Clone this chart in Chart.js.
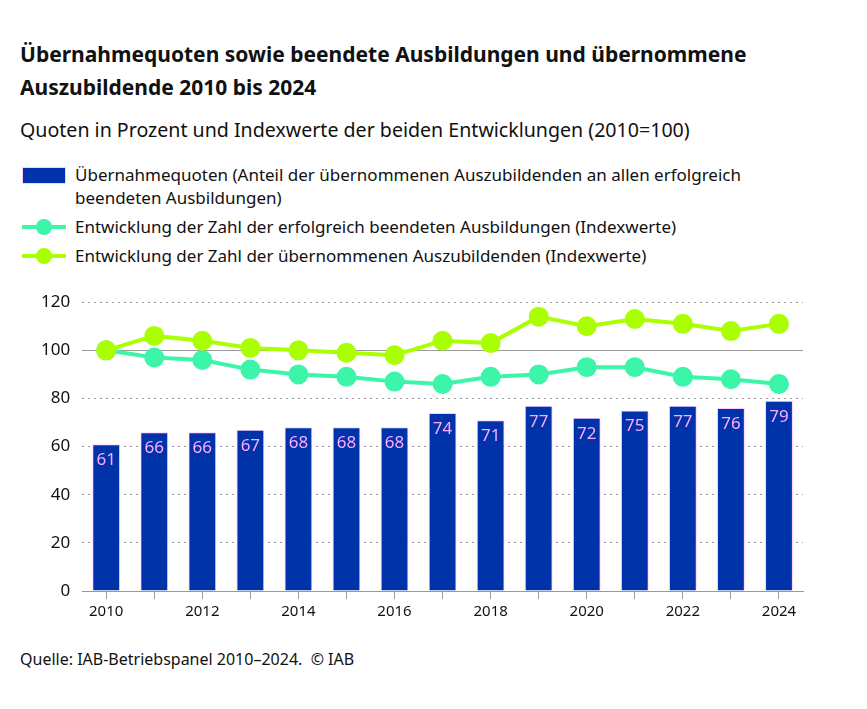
<!DOCTYPE html>
<html>
<head>
<meta charset="utf-8">
<script src="https://cdn.jsdelivr.net/npm/chart.js@4"></script>
<style>
  body { margin: 0; background: #fff; font-family: "Noto Sans", sans-serif; color: #111; }
  .wrap { position: relative; width: 867px; height: 709px; }
  .title { position: absolute; left: 20px; top: 38px; font-size: 21px; font-weight: bold; line-height: 33px; }
  .subtitle { position: absolute; left: 20px; top: 116px; font-size: 19.6px; }
  .legend { position: absolute; left: 22px; top: 163px; font-size: 17px; line-height: 23px; }
  .item { position: relative; padding-left: 53px; margin-bottom: 6px; width: 700px; }
  .box { position: absolute; left: 0; top: 4px; width: 42px; height: 15px; background: #0033aa; border: 1px solid #ffccff; }
  .line { position: absolute; left: 0; top: 10px; width: 44px; height: 4px; }
  .dot { position: absolute; left: 14px; top: 4px; width: 16px; height: 16px; border-radius: 50%; }
  .source { position: absolute; left: 20px; top: 648px; font-size: 16px; }
  .chart { position: absolute; left: 0; top: 280px; width: 815px; height: 345px; }
</style>
</head>
<body>
<div class="wrap">
  <div class="title">Übernahmequoten sowie beendete Ausbildungen und übernommene<br>Auszubildende 2010 bis 2024</div>
  <div class="subtitle">Quoten in Prozent und Indexwerte der beiden Entwicklungen (2010=100)</div>
  <div class="legend">
    <div class="item"><span class="box"></span>Übernahmequoten (Anteil der übernommenen Auszubildenden an allen erfolgreich beendeten Ausbildungen)</div>
    <div class="item"><span class="line" style="background:#3cf5a8"></span><span class="dot" style="background:#3cf5a8"></span>Entwicklung der Zahl der erfolgreich beendeten Ausbildungen (Indexwerte)</div>
    <div class="item"><span class="line" style="background:#aaff00"></span><span class="dot" style="background:#aaff00"></span>Entwicklung der Zahl der übernommenen Auszubildenden (Indexwerte)</div>
  </div>
  <div class="chart"><canvas id="chart"></canvas></div>
  <div class="source">Quelle: IAB-Betriebspanel 2010–2024.&nbsp; © IAB</div>
</div>
<script>
const years = ['2010', '2011', '2012', '2013', '2014', '2015', '2016', '2017', '2018', '2019', '2020', '2021', '2022', '2023', '2024']
const quoten = [61, 66, 66, 67, 68, 68, 68, 74, 71, 77, 72, 75, 77, 76, 79]
const beendet = [100, 97, 96, 92, 90, 89, 87, 86, 89, 90, 93, 93, 89, 88, 86]
const uebernommen = [100, 106, 104, 101, 100, 99, 98, 104, 103, 114, 110, 113, 111, 108, 111]
const yTicks = [0, 20, 40, 60, 80, 100, 120]

// Werte in die Balken schreiben (Balken-Datensatz = Index 2)
const barLabels = {
    id: 'barLabels',
    afterDatasetsDraw(chart) {
        const ctx = chart.ctx
        const meta = chart.getDatasetMeta(2)
        ctx.save()
        ctx.fillStyle = '#ffaaff'
        ctx.font = '17px "Noto Sans"'
        ctx.textAlign = 'center'
        ctx.textBaseline = 'middle'
        meta.data.forEach((bar, i) => {
            ctx.fillText(quoten[i], bar.x, bar.y + 16)
        })
        ctx.restore()
    }
}

const chart = new Chart(document.getElementById('chart'), {
    data: {
        labels: years,
        datasets: [
            {
                type: 'line',
                data: uebernommen,
                borderColor: '#aaff00',
                backgroundColor: '#aaff00',
                borderWidth: 4,
                pointRadius: 8,
                pointHoverRadius: 8,
                order: 1
            },
            {
                type: 'line',
                data: beendet,
                borderColor: '#3cf5a8',
                backgroundColor: '#3cf5a8',
                borderWidth: 4,
                pointRadius: 8,
                pointHoverRadius: 8,
                order: 2
            },
            {
                type: 'bar',
                data: quoten,
                backgroundColor: '#0033aa',
                borderColor: '#ffccff',
                borderWidth: 1,
                categoryPercentage: 1,
                barPercentage: 0.58,
                order: 3
            }
        ]
    },
    options: {
        responsive: true,
        maintainAspectRatio: false,
        animation: false,
        layout: { padding: { top: 10, right: 0, left: 29, bottom: 0 } },
        plugins: {
            legend: { display: false },
            tooltip: { enabled: false }
        },
        scales: {
            x: {
                offset: true,
                grid: { offset: false, drawOnChartArea: false, color: '#999', tickLength: 8 },
                border: { display: true, color: '#999', width: 1 },
                ticks: {
                    color: '#111',
                    font: { family: 'Noto Sans', size: 15 },
                    maxRotation: 0,
                    autoSkip: false,
                    padding: 4,
                    callback: (v, i) => (i % 2 === 0 ? years[i] : '')
                }
            },
            y: {
                min: 0,
                max: 120,
                afterBuildTicks: (s) => { s.ticks = yTicks.map(v => ({ value: v })) },
                grid: {
                    color: (c) => (c.tick && (c.tick.value === 0 || c.tick.value === 100) ? 'rgba(0,0,0,0)' : '#999'),
                    drawTicks: false
                },
                border: { display: false, dash: [2, 4] },
                ticks: { color: '#111', font: { family: 'Noto Sans', size: 17 }, padding: 12 }
            },
            y100: {
                min: 0,
                max: 120,
                position: 'left',
                afterBuildTicks: (s) => { s.ticks = [{ value: 100 }] },
                grid: { color: '#999', drawTicks: false },
                border: { display: false },
                ticks: { display: false }
            }
        }
    },
    plugins: [barLabels]
})
</script>
</body>
</html>
